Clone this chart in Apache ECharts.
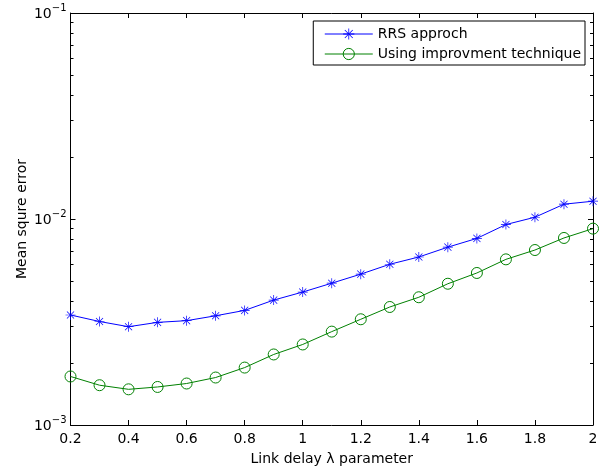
<!DOCTYPE html>
<html><head><meta charset="utf-8">
<script src="https://cdn.jsdelivr.net/npm/echarts@6/dist/echarts.min.js"></script>
<style>html,body{margin:0;padding:0;background:#fff}#c{width:605px;height:470px}</style>
</head><body><div id="c"></div>
<script>
const xValues = [0.2,0.3,0.4,0.5,0.6,0.7,0.8,0.9,1.0,1.1,1.2,1.3,1.4,1.5,1.6,1.7,1.8,1.9,2.0];
const rrs = [3.42e-3,3.18e-3,3.00e-3,3.15e-3,3.21e-3,3.39e-3,3.60e-3,4.04e-3,4.42e-3,4.88e-3,5.40e-3,6.03e-3,6.54e-3,7.30e-3,8.05e-3,9.40e-3,1.02e-2,1.18e-2,1.22e-2];
const improved = [1.72e-3,1.56e-3,1.49e-3,1.53e-3,1.59e-3,1.70e-3,1.90e-3,2.20e-3,2.46e-3,2.84e-3,3.26e-3,3.74e-3,4.17e-3,4.85e-3,5.47e-3,6.37e-3,7.07e-3,8.09e-3,8.98e-3];
const seriesNames = ['RRS approch','Using improvment technique'];
const minorTickValues = [0.002,0.003,0.004,0.005,0.006,0.007,0.008,0.009,0.02,0.03,0.04,0.05,0.06,0.07,0.08,0.09];

const FONT = 'DejaVu Sans';
const FS = 14;
const asterisk = 'path://M-0.7,-10 L0.7,-10 L0.7,10 L-0.7,10 Z M-10,-0.7 L10,-0.7 L10,0.7 L-10,0.7 Z M-7.6,-6.6 L-6.6,-7.6 L7.6,6.6 L6.6,7.6 Z M-7.6,6.6 L-6.6,7.6 L7.6,-6.6 L6.6,-7.6 Z';

function pairs(ys){ return xValues.map((x,i)=>[x, ys[i]]); }
function supLabel(v){
  const e = Math.round(Math.log10(v));
  return '{b|10}{s|' + (e<0?'\u2212':'') + Math.abs(e) + '}';
}
const chart = echarts.init(document.getElementById('c'), null, {renderer:'canvas'});
const hidden = {show:false};
chart.setOption({
  animation:false,
  textStyle:{fontFamily:FONT},
  grid:{left:70.5, right:12, top:13, bottom:45, containLabel:false, outerBoundsMode:'none'},
  legend:{
    orient:'vertical', right:20, top:21,
    backgroundColor:'#fff', borderColor:'#000', borderWidth:1, borderRadius:0,
    padding:[6,4,4,11], itemGap:6, itemWidth:48, itemHeight:14,
    itemStyle:{borderWidth:1},
    lineStyle:{width:1},
    textStyle:{fontFamily:FONT, fontSize:FS, color:'#000'},
    data:seriesNames
  },
  xAxis:[{
    type:'value', min:0.2, max:2, interval:0.2, position:'bottom',
    name:'Link delay \u03bb parameter', nameLocation:'middle', nameGap:27, nameMoveOverlap:false,
    nameTextStyle:{fontFamily:FONT, fontSize:FS, color:'#000'},
    axisLine:{lineStyle:{color:'#000', width:1}},
    axisTick:{inside:true, length:5, lineStyle:{color:'#000'}},
    axisLabel:{color:'#000', fontSize:FS, fontFamily:FONT, margin:7,
      formatter:v=>String(parseFloat(v.toFixed(1)))},
    splitLine:hidden
  },{
    type:'value', min:0.2, max:2, interval:0.2, position:'top',
    axisLine:{lineStyle:{color:'#000', width:1}},
    axisTick:{inside:true, length:5, lineStyle:{color:'#000'}},
    axisLabel:hidden, splitLine:hidden
  }],
  yAxis:[{
    type:'log', min:0.001, max:0.1, logBase:10, position:'left',
    name:'Mean squre error', nameLocation:'middle', nameGap:41, nameMoveOverlap:false,
    nameTextStyle:{fontFamily:FONT, fontSize:FS, color:'#000'},
    axisLine:{lineStyle:{color:'#000', width:1}},
    axisTick:{inside:true, length:5, lineStyle:{color:'#000'}},
    axisLabel:{color:'#000', margin:4, formatter:supLabel,
      rich:{b:{fontFamily:FONT, fontSize:FS, color:'#000', padding:[3,0,0,0]},
            s:{fontFamily:FONT, fontSize:10, color:'#000', verticalAlign:'bottom', padding:[0,0,9,0]}}},
    splitLine:hidden
  },{
    type:'log', min:0.001, max:0.1, logBase:10, position:'right',
    axisLine:{lineStyle:{color:'#000', width:1}},
    axisTick:{inside:true, length:5, lineStyle:{color:'#000'}},
    axisLabel:hidden, splitLine:hidden
  },{
    type:'log', min:0.001, max:0.1, logBase:10, position:'left',
    axisLine:hidden,
    axisTick:{inside:true, length:3, customValues:minorTickValues, lineStyle:{color:'#000'}},
    axisLabel:{show:false, customValues:minorTickValues}, splitLine:hidden
  },{
    type:'log', min:0.001, max:0.1, logBase:10, position:'right',
    axisLine:hidden,
    axisTick:{inside:true, length:3, customValues:minorTickValues, lineStyle:{color:'#000'}},
    axisLabel:{show:false, customValues:minorTickValues}, splitLine:hidden
  }],
  series:[{
    name:seriesNames[0], type:'line', data:pairs(rrs),
    symbol:asterisk, symbolSize:10,
    lineStyle:{color:'#0000ff', width:1}, itemStyle:{color:'#0000ff'}
  },{
    name:seriesNames[1], type:'line', data:pairs(improved),
    symbol:'circle', symbolSize:11,
    lineStyle:{color:'#008000', width:1},
    itemStyle:{color:'rgba(255,255,255,0)', borderColor:'#008000', borderWidth:1}
  }]
});
</script></body></html>
